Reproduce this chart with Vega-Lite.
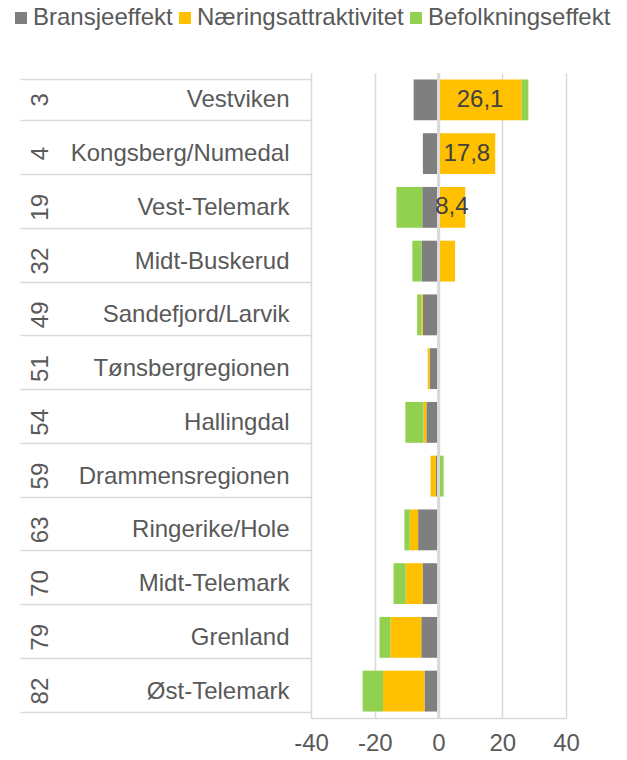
{
  "$schema": "https://vega.github.io/schema/vega-lite/v6.json",
  "width": 255,
  "height": 645,
  "autosize": {"type": "none"},
  "padding": {"left": 311, "top": 73, "right": 61, "bottom": 42},
  "background": "white",
  "config": {
    "view": {"stroke": null},
    "font": "Liberation Sans",
    "axis": {"labelFont": "Liberation Sans", "titleFont": "Liberation Sans"},
    "legend": {"labelFont": "Liberation Sans"}
  },
  "data": {
    "values": [
      {"rank": 3, "region": "Vestviken", "effect": "Bransjeeffekt", "value": -7.8},
      {"rank": 3, "region": "Vestviken", "effect": "Næringsattraktivitet", "value": 26.1},
      {"rank": 3, "region": "Vestviken", "effect": "Befolkningseffekt", "value": 2.1},
      {"rank": 4, "region": "Kongsberg/Numedal", "effect": "Bransjeeffekt", "value": -4.9},
      {"rank": 4, "region": "Kongsberg/Numedal", "effect": "Næringsattraktivitet", "value": 17.8},
      {"rank": 4, "region": "Kongsberg/Numedal", "effect": "Befolkningseffekt", "value": 0},
      {"rank": 19, "region": "Vest-Telemark", "effect": "Bransjeeffekt", "value": -5.1},
      {"rank": 19, "region": "Vest-Telemark", "effect": "Næringsattraktivitet", "value": 8.4},
      {"rank": 19, "region": "Vest-Telemark", "effect": "Befolkningseffekt", "value": -8.1},
      {"rank": 32, "region": "Midt-Buskerud", "effect": "Bransjeeffekt", "value": -5.3},
      {"rank": 32, "region": "Midt-Buskerud", "effect": "Næringsattraktivitet", "value": 5.2},
      {"rank": 32, "region": "Midt-Buskerud", "effect": "Befolkningseffekt", "value": -2.9},
      {"rank": 49, "region": "Sandefjord/Larvik", "effect": "Bransjeeffekt", "value": -4.9},
      {"rank": 49, "region": "Sandefjord/Larvik", "effect": "Næringsattraktivitet", "value": -0.4},
      {"rank": 49, "region": "Sandefjord/Larvik", "effect": "Befolkningseffekt", "value": -1.4},
      {"rank": 51, "region": "Tønsbergregionen", "effect": "Bransjeeffekt", "value": -2.8},
      {"rank": 51, "region": "Tønsbergregionen", "effect": "Næringsattraktivitet", "value": -0.6},
      {"rank": 51, "region": "Tønsbergregionen", "effect": "Befolkningseffekt", "value": 0},
      {"rank": 54, "region": "Hallingdal", "effect": "Bransjeeffekt", "value": -3.8},
      {"rank": 54, "region": "Hallingdal", "effect": "Næringsattraktivitet", "value": -0.9},
      {"rank": 54, "region": "Hallingdal", "effect": "Befolkningseffekt", "value": -5.7},
      {"rank": 59, "region": "Drammensregionen", "effect": "Bransjeeffekt", "value": -0.8},
      {"rank": 59, "region": "Drammensregionen", "effect": "Næringsattraktivitet", "value": -1.7},
      {"rank": 59, "region": "Drammensregionen", "effect": "Befolkningseffekt", "value": 1.6},
      {"rank": 63, "region": "Ringerike/Hole", "effect": "Bransjeeffekt", "value": -6.4},
      {"rank": 63, "region": "Ringerike/Hole", "effect": "Næringsattraktivitet", "value": -2.6},
      {"rank": 63, "region": "Ringerike/Hole", "effect": "Befolkningseffekt", "value": -1.7},
      {"rank": 70, "region": "Midt-Telemark", "effect": "Bransjeeffekt", "value": -5.0},
      {"rank": 70, "region": "Midt-Telemark", "effect": "Næringsattraktivitet", "value": -5.3},
      {"rank": 70, "region": "Midt-Telemark", "effect": "Befolkningseffekt", "value": -3.8},
      {"rank": 79, "region": "Grenland", "effect": "Bransjeeffekt", "value": -5.4},
      {"rank": 79, "region": "Grenland", "effect": "Næringsattraktivitet", "value": -9.7},
      {"rank": 79, "region": "Grenland", "effect": "Befolkningseffekt", "value": -3.4},
      {"rank": 82, "region": "Øst-Telemark", "effect": "Bransjeeffekt", "value": -4.4},
      {"rank": 82, "region": "Øst-Telemark", "effect": "Næringsattraktivitet", "value": -13.0},
      {"rank": 82, "region": "Øst-Telemark", "effect": "Befolkningseffekt", "value": -6.4}
    ]
  },
  "layer": [
    {
      "layer": [
        {
          "transform": [
            {"calculate": "indexof(['Bransjeeffekt','Næringsattraktivitet','Befolkningseffekt'], datum.effect)", "as": "ord"}
          ],
          "mark": {"type": "bar"},
          "encoding": {
            "y": {
              "field": "region", "type": "nominal",
              "sort": ["Vestviken","Kongsberg/Numedal","Vest-Telemark","Midt-Buskerud","Sandefjord/Larvik","Tønsbergregionen","Hallingdal","Drammensregionen","Ringerike/Hole","Midt-Telemark","Grenland","Øst-Telemark"],
              "scale": {"paddingInner": 0.24, "paddingOuter": 0.12},
              "axis": {
                "orient": "left", "title": null, "domain": false, "grid": false,
                "ticks": true, "tickBand": "extent", "tickSize": 291, "tickColor": "#d9d9d9", "tickWidth": 1.5,
                "labelPadding": -269, "labelAlign": "right", "labelBaseline": "middle",
                "labelFontSize": 24, "labelColor": "#595959", "labelLimit": 400
              }
            },
            "x": {
              "field": "value", "type": "quantitative", "stack": "zero",
              "scale": {"domain": [-40, 40], "nice": false, "zero": false},
              "axis": {
                "title": null, "values": [-40, -20, 0, 20, 40], "grid": true, "gridColor": "#d9d9d9", "gridWidth": 1.5,
                "domain": true, "domainColor": "#d9d9d9", "domainWidth": 1.5, "ticks": false,
                "labelExpr": "datum.value < 0 ? '-' + (-datum.value) : '' + datum.value",
                "labelFontSize": 24, "labelColor": "#595959", "labelPadding": 13, "labelFlush": false
              }
            },
            "color": {
              "field": "effect", "type": "nominal",
              "scale": {"domain": ["Bransjeeffekt","Næringsattraktivitet","Befolkningseffekt"], "range": ["#7f7f7f","#ffc000","#92d050"]},
              "legend": {
                "orient": "none", "legendX": -302, "legendY": -67, "direction": "horizontal", "title": null,
                "symbolType": "square", "symbolSize": 144, "symbolStrokeWidth": 0,
                "labelFontSize": 24, "labelColor": "#595959", "labelOffset": 0, "columnPadding": -1, "labelLimit": 400
              }
            },
            "order": {"field": "ord", "type": "quantitative"}
          }
        },
        {
          "mark": {"type": "rule", "color": "#d9d9d9", "strokeWidth": 1.5},
          "encoding": {"x": {"datum": 0}}
        },
        {
          "transform": [
            {"filter": "datum.effect == 'Næringsattraktivitet' && datum.value > 8"},
            {"calculate": "datum.value / 2", "as": "mid"},
            {"calculate": "replace(format(datum.value, '.1f'), '.', ',')", "as": "lbl"}
          ],
          "mark": {"type": "text", "fontSize": 24, "color": "#404040", "align": "center", "baseline": "middle"},
          "encoding": {
            "y": {"field": "region", "type": "nominal",
              "sort": ["Vestviken","Kongsberg/Numedal","Vest-Telemark","Midt-Buskerud","Sandefjord/Larvik","Tønsbergregionen","Hallingdal","Drammensregionen","Ringerike/Hole","Midt-Telemark","Grenland","Øst-Telemark"]},
            "x": {"field": "mid", "type": "quantitative"},
            "text": {"field": "lbl", "type": "nominal"}
          }
        }
      ]
    },
    {
      "mark": {"type": "point", "opacity": 0},
      "encoding": {
        "y": {
          "field": "rank", "type": "ordinal",
          "scale": {"type": "band", "paddingInner": 0.24, "paddingOuter": 0.12},
          "axis": {
            "orient": "left", "title": null, "domain": false, "ticks": false, "grid": false,
            "labelAngle": -90, "labelAlign": "center", "labelBaseline": "middle", "labelPadding": 271,
            "labelFontSize": 24, "labelColor": "#595959", "labelOverlap": false
          }
        },
        "x": {"field": "value", "type": "quantitative"}
      }
    }
  ],
  "resolve": {"scale": {"y": "independent"}, "axis": {"y": "independent"}}
}
